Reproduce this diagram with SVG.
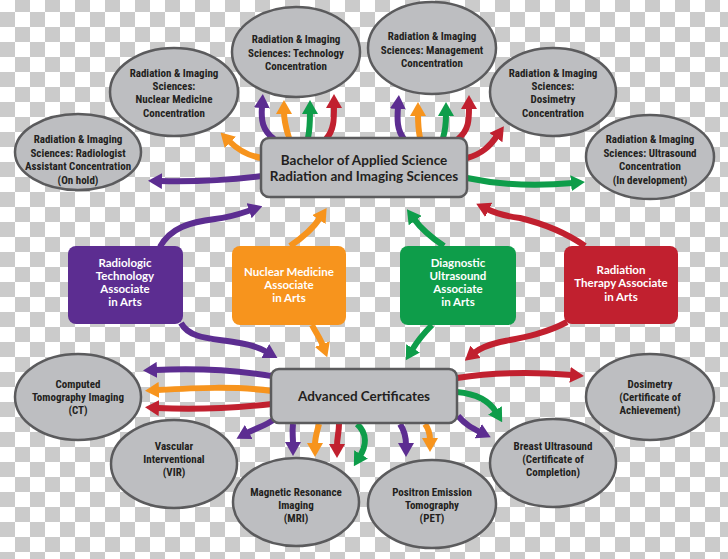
<svg xmlns="http://www.w3.org/2000/svg" width="728" height="559" viewBox="0 0 728 559">
<defs>
<pattern id="cb" width="30" height="30" patternUnits="userSpaceOnUse" y="-3">
<rect width="30" height="30" fill="#ffffff"/>
<rect x="15" y="0" width="15" height="15" fill="#cbcbcb"/>
<rect x="0" y="15" width="15" height="15" fill="#cbcbcb"/>
</pattern>
<marker id="ap" viewBox="0 0 14 16" markerUnits="userSpaceOnUse" markerWidth="14" markerHeight="16" refX="2" refY="8" orient="auto"><path d="M0,0 L14,8 L0,16 z" fill="#5c2d91"/></marker>
<marker id="ao" viewBox="0 0 14 16" markerUnits="userSpaceOnUse" markerWidth="14" markerHeight="16" refX="2" refY="8" orient="auto"><path d="M0,0 L14,8 L0,16 z" fill="#f7941d"/></marker>
<marker id="ag" viewBox="0 0 14 16" markerUnits="userSpaceOnUse" markerWidth="14" markerHeight="16" refX="2" refY="8" orient="auto"><path d="M0,0 L14,8 L0,16 z" fill="#0e9d4a"/></marker>
<marker id="ar" viewBox="0 0 14 16" markerUnits="userSpaceOnUse" markerWidth="14" markerHeight="16" refX="2" refY="8" orient="auto"><path d="M0,0 L14,8 L0,16 z" fill="#c1202f"/></marker>
</defs>
<style>
.ell{fill:#bdbec1;stroke:#5b5b5d;stroke-width:2.5}
.box{fill:#bdbec1;stroke:#5b5b5d;stroke-width:2.5}
.et{font-family:'Liberation Sans Narrow','Roboto Condensed','DejaVu Sans Condensed',sans-serif;font-weight:bold;font-size:11px;fill:#231f20;text-anchor:middle}
.bt{font-family:Lato,'Liberation Sans',sans-serif;font-weight:bold;font-size:13.5px;fill:#231f20;text-anchor:middle}
.wt{font-family:Lato,'Liberation Sans',sans-serif;font-weight:bold;font-size:11.5px;fill:#ffffff;text-anchor:middle}
.c{fill:none;stroke-width:6}
.p{stroke:#5c2d91;marker-end:url(#ap)}
.o{stroke:#f7941d;marker-end:url(#ao)}
.g{stroke:#0e9d4a;marker-end:url(#ag)}
.r{stroke:#c1202f;marker-end:url(#ar)}
</style>
<rect width="728" height="559" fill="url(#cb)"/>
<g id="connectors">
<path class="c p" d="M274,139 C262,130 261,120 262,106"/>
<path class="c o" d="M289,138 C286,128 284,122 284,112"/>
<path class="c g" d="M308,138 C310,128 310,122 310,112"/>
<path class="c r" d="M326,139 C334,130 334,120 334,106"/>
<path class="c p" d="M404,139 C397,130 397,120 398,107"/>
<path class="c o" d="M420,138 C418,128 418,122 418,114"/>
<path class="c g" d="M443,138 C446,128 446,122 446,114"/>
<path class="c r" d="M458,139 C469,130 469,120 469,107"/>
<path class="c o" d="M262,158 C248,156 238,150 229,141"/>
<path class="c p" d="M262,176 C230,180 200,182 160,181"/>
<path class="c r" d="M467,158 C482,154 490,146 497,136"/>
<path class="c g" d="M467,178 C500,185 540,186 573,183"/>
<path class="c p" d="M160,247 C170,228 190,222 215,219 C232,217 242,213 251,210"/>
<path class="c p" d="M181,323 C190,340 215,338 240,343 C252,345 260,348 267,352"/>
<path class="c o" d="M290,246 C302,238 312,230 320,218"/>
<path class="c o" d="M312,325 C316,333 320,338 323,346"/>
<path class="c g" d="M444,246 C432,238 422,230 414,219"/>
<path class="c g" d="M432,325 C424,333 418,340 412,350"/>
<path class="c r" d="M585,246 C565,232 545,224 520,218 C505,216 495,213 487,209"/>
<path class="c r" d="M567,322 C545,334 520,338 500,342 C488,345 480,348 474,353"/>
<path class="c p" d="M272,376 C235,370 195,368 155,370"/>
<path class="c o" d="M272,391 C235,386 195,388 157,390"/>
<path class="c r" d="M272,404 C235,408 195,410 157,408"/>
<path class="c p" d="M276,418 C266,426 256,428 247,433"/>
<path class="c p" d="M293,424 C292,432 293,436 293,444"/>
<path class="c o" d="M319,424 C317,432 315,437 315,445"/>
<path class="c r" d="M339,424 C339,432 337,438 337,446"/>
<path class="c g" d="M357,424 C368,434 366,446 360,456"/>
<path class="c p" d="M400,424 C404,430 406,437 406,445"/>
<path class="c o" d="M425,424 C428,428 430,433 430,440"/>
<path class="c p" d="M458,416 C466,425 472,428 480,432"/>
<path class="c g" d="M457,392 C478,394 490,402 496,412"/>
<path class="c r" d="M457,378 C495,372 535,372 572,375"/>
</g>
<g id="bachelor">
<rect class="box" x="261" y="138" width="206" height="59" rx="8"/>
<text class="bt" x="364" y="165">Bachelor of Applied Science</text>
<text class="bt" x="364" y="181">Radiation and Imaging Sciences</text>
</g>
<g id="advanced">
<rect class="box" x="271" y="369" width="186" height="54" rx="8"/>
<text class="bt" x="364" y="401">Advanced Certificates</text>
</g>
<g id="radiologist-assistant">
<ellipse class="ell" cx="78" cy="152" rx="63" ry="38"/>
<text class="et" x="78" y="143">Radiation &amp; Imaging</text>
<text class="et" x="78" y="157">Sciences: Radiologist</text>
<text class="et" x="78" y="170">Assistant Concentration</text>
<text class="et" x="78" y="184">(On hold)</text>
</g>
<g id="nuclear-medicine-conc">
<ellipse class="ell" cx="174" cy="92" rx="64" ry="44"/>
<text class="et" x="174" y="77">Radiation &amp; Imaging</text>
<text class="et" x="174" y="90">Sciences:</text>
<text class="et" x="174" y="103">Nuclear Medicine</text>
<text class="et" x="174" y="117">Concentration</text>
</g>
<g id="technology-conc">
<ellipse class="ell" cx="296" cy="52" rx="64" ry="45"/>
<text class="et" x="296" y="43">Radiation &amp; Imaging</text>
<text class="et" x="296" y="57">Sciences: Technology</text>
<text class="et" x="296" y="70">Concentration</text>
</g>
<g id="management-conc">
<ellipse class="ell" cx="432" cy="48" rx="64" ry="46"/>
<text class="et" x="432" y="40">Radiation &amp; Imaging</text>
<text class="et" x="432" y="54">Sciences: Management</text>
<text class="et" x="432" y="67">Concentration</text>
</g>
<g id="dosimetry-conc">
<ellipse class="ell" cx="553" cy="92" rx="63" ry="44"/>
<text class="et" x="553" y="77">Radiation &amp; Imaging</text>
<text class="et" x="553" y="90">Sciences:</text>
<text class="et" x="553" y="103">Dosimetry</text>
<text class="et" x="553" y="117">Concentration</text>
</g>
<g id="ultrasound-conc">
<ellipse class="ell" cx="650" cy="157" rx="64" ry="42"/>
<text class="et" x="650" y="143">Radiation &amp; Imaging</text>
<text class="et" x="650" y="157">Sciences: Ultrasound</text>
<text class="et" x="650" y="170">Concentration</text>
<text class="et" x="650" y="184">(In development)</text>
</g>
<g id="radiologic-tech">
<rect x="68" y="246" width="115" height="78" rx="8" fill="#5c2d91"/>
<text class="wt" x="125" y="267">Radiologic</text>
<text class="wt" x="125" y="280">Technology</text>
<text class="wt" x="125" y="293">Associate</text>
<text class="wt" x="125" y="306">in Arts</text>
</g>
<g id="nuclear-medicine">
<rect x="232" y="246" width="114" height="79" rx="8" fill="#f7941d"/>
<text class="wt" x="289" y="276">Nuclear Medicine</text>
<text class="wt" x="289" y="289">Associate</text>
<text class="wt" x="289" y="302">in Arts</text>
</g>
<g id="diagnostic-ultrasound">
<rect x="400" y="246" width="116" height="79" rx="8" fill="#0e9d4a"/>
<text class="wt" x="458" y="267">Diagnostic</text>
<text class="wt" x="458" y="280">Ultrasound</text>
<text class="wt" x="458" y="293">Associate</text>
<text class="wt" x="458" y="306">in Arts</text>
</g>
<g id="radiation-therapy">
<rect x="564" y="246" width="114" height="78" rx="8" fill="#c1202f"/>
<text class="wt" x="621" y="274">Radiation</text>
<text class="wt" x="621" y="287">Therapy Associate</text>
<text class="wt" x="621" y="301">in Arts</text>
</g>
<g id="ct">
<ellipse class="ell" cx="78" cy="397" rx="63" ry="43"/>
<text class="et" x="78" y="388">Computed</text>
<text class="et" x="78" y="401">Tomography Imaging</text>
<text class="et" x="78" y="414">(CT)</text>
</g>
<g id="vascular">
<ellipse class="ell" cx="174" cy="464" rx="63" ry="44"/>
<text class="et" x="174" y="450">Vascular</text>
<text class="et" x="174" y="463">Interventional</text>
<text class="et" x="174" y="476">(VIR)</text>
</g>
<g id="mri">
<ellipse class="ell" cx="296" cy="502" rx="63" ry="44"/>
<text class="et" x="296" y="496">Magnetic Resonance</text>
<text class="et" x="296" y="509">Imaging</text>
<text class="et" x="296" y="522">(MRI)</text>
</g>
<g id="pet">
<ellipse class="ell" cx="432" cy="504" rx="64" ry="44"/>
<text class="et" x="432" y="496">Positron Emission</text>
<text class="et" x="432" y="509">Tomography</text>
<text class="et" x="432" y="522">(PET)</text>
</g>
<g id="breast-ultrasound">
<ellipse class="ell" cx="553" cy="463" rx="63" ry="44"/>
<text class="et" x="553" y="450">Breast Ultrasound</text>
<text class="et" x="553" y="463">(Certificate of</text>
<text class="et" x="553" y="476">Completion)</text>
</g>
<g id="dosimetry-cert">
<ellipse class="ell" cx="650" cy="397" rx="64" ry="43"/>
<text class="et" x="650" y="388">Dosimetry</text>
<text class="et" x="650" y="401">(Certificate of</text>
<text class="et" x="650" y="414">Achievement)</text>
</g>
</svg>
